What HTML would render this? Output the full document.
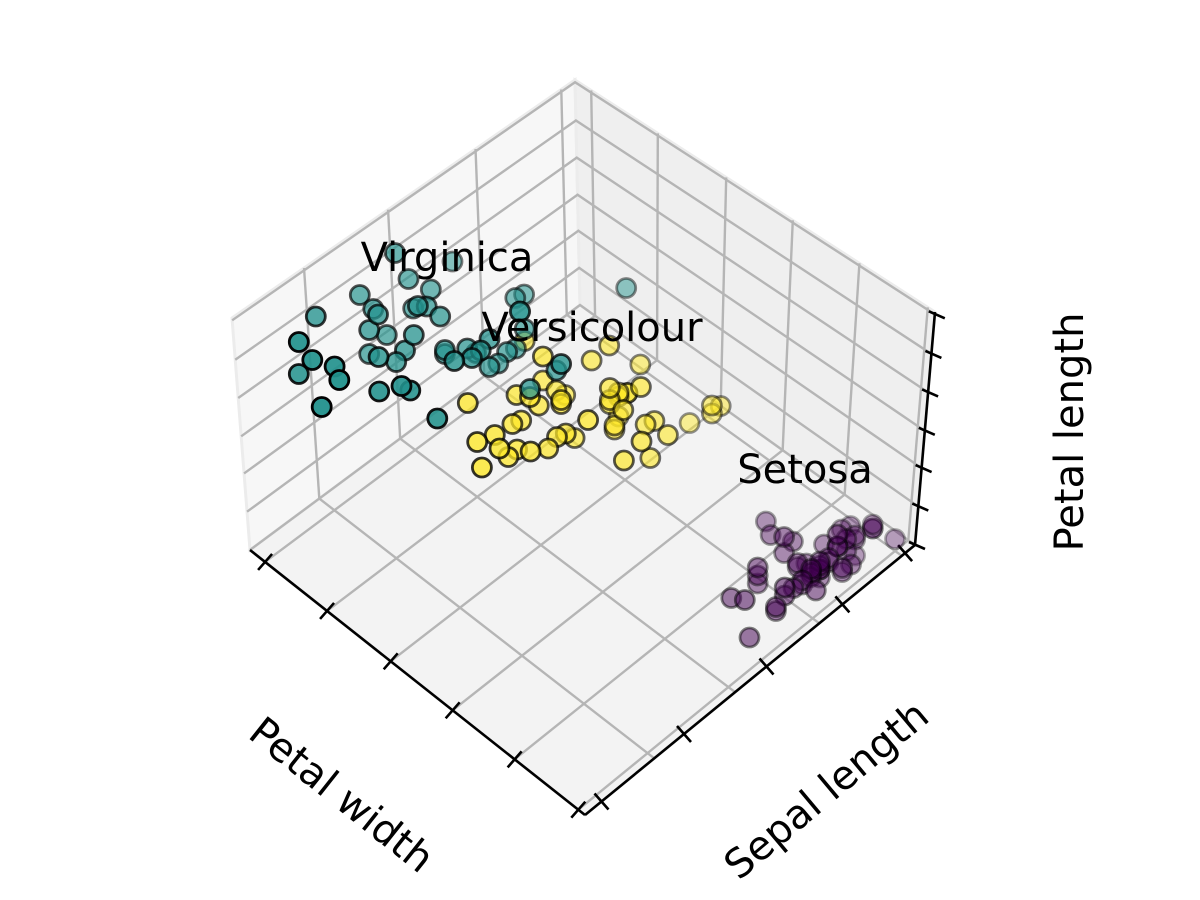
<!DOCTYPE html>
<html><head><meta charset="utf-8"><style>
body{margin:0;background:#fff}
svg{display:block;font-family:"DejaVu Sans","Liberation Sans",sans-serif}
</style></head><body>
<svg id="chart" width="1200" height="900" viewBox="0 0 1200 900">
<g id="panes"></g>
<g id="grid"></g>
<g id="axes"></g>
<g id="pts"></g>
<g id="labels">
<text x="447" y="271" font-size="40" text-anchor="middle">Virginica</text>
<text x="592" y="341" font-size="40" text-anchor="middle">Versicolour</text>
<text x="805" y="483" font-size="40" text-anchor="middle">Setosa</text>
<text transform="translate(340,797) rotate(38.5)" font-size="40" text-anchor="middle" dominant-baseline="middle">Petal width</text>
<text transform="translate(828,792) rotate(-40)" font-size="40" text-anchor="middle" dominant-baseline="middle">Sepal length</text>
<text transform="translate(1072,432) rotate(-90)" font-size="40" text-anchor="middle" dominant-baseline="middle">Petal length</text>
</g>
</svg>
<script>
// Iris data (sepal length, petal length, petal width) per species
const setosa = [[5.1,1.4,0.2],[4.9,1.4,0.2],[4.7,1.3,0.2],[4.6,1.5,0.2],[5.0,1.4,0.2],[5.4,1.7,0.4],[4.6,1.4,0.3],[5.0,1.5,0.2],[4.4,1.4,0.2],[4.9,1.5,0.1],[5.4,1.5,0.2],[4.8,1.6,0.2],[4.8,1.4,0.1],[4.3,1.1,0.1],[5.8,1.2,0.2],[5.7,1.5,0.4],[5.4,1.3,0.4],[5.1,1.4,0.3],[5.7,1.7,0.3],[5.1,1.5,0.3],[5.4,1.7,0.2],[5.1,1.5,0.4],[4.6,1.0,0.2],[5.1,1.7,0.5],[4.8,1.9,0.2],[5.0,1.6,0.2],[5.0,1.6,0.4],[5.2,1.5,0.2],[5.2,1.4,0.2],[4.7,1.6,0.2],[4.8,1.6,0.2],[5.4,1.5,0.4],[5.2,1.5,0.1],[5.5,1.4,0.2],[4.9,1.5,0.2],[5.0,1.2,0.2],[5.5,1.3,0.2],[4.9,1.4,0.1],[4.4,1.3,0.2],[5.1,1.5,0.2],[5.0,1.3,0.3],[4.5,1.3,0.3],[4.4,1.3,0.2],[5.0,1.6,0.6],[5.1,1.9,0.4],[4.8,1.4,0.3],[5.1,1.6,0.2],[4.6,1.4,0.2],[5.3,1.5,0.2],[5.0,1.4,0.2]];
const versicolour = [[7.0,4.7,1.4],[6.4,4.5,1.5],[6.9,4.9,1.5],[5.5,4.0,1.3],[6.5,4.6,1.5],[5.7,4.5,1.3],[6.3,4.7,1.6],[4.9,3.3,1.0],[6.6,4.6,1.3],[5.2,3.9,1.4],[5.0,3.5,1.0],[5.9,4.2,1.5],[6.0,4.0,1.0],[6.1,4.7,1.4],[5.6,3.6,1.3],[6.7,4.4,1.4],[5.6,4.5,1.5],[5.8,4.1,1.0],[6.2,4.5,1.5],[5.6,3.9,1.1],[5.9,4.8,1.8],[6.1,4.0,1.3],[6.3,4.9,1.5],[6.1,4.7,1.2],[6.4,4.3,1.3],[6.6,4.4,1.4],[6.8,4.8,1.4],[6.7,5.0,1.7],[6.0,4.5,1.5],[5.7,3.5,1.0],[5.5,3.8,1.1],[5.5,3.7,1.0],[5.8,3.9,1.2],[6.0,5.1,1.6],[5.4,4.5,1.5],[6.0,4.5,1.6],[6.7,4.7,1.5],[6.3,4.4,1.3],[5.6,4.1,1.3],[5.5,4.0,1.3],[5.5,4.4,1.2],[6.1,4.6,1.4],[5.8,4.0,1.2],[5.0,3.3,1.0],[5.6,4.2,1.3],[5.7,4.2,1.2],[5.7,4.2,1.3],[6.2,4.3,1.3],[5.1,3.0,1.1],[5.7,4.1,1.3]];
const virginica = [[6.3,6.0,2.5],[5.8,5.1,1.9],[7.1,5.9,2.1],[6.3,5.6,1.8],[6.5,5.8,2.2],[7.6,6.6,2.1],[4.9,4.5,1.7],[7.3,6.3,1.8],[6.7,5.8,1.8],[7.2,6.1,2.5],[6.5,5.1,2.0],[6.4,5.3,1.9],[6.8,5.5,2.1],[5.7,5.0,2.0],[5.8,5.1,2.4],[6.4,5.3,2.3],[6.5,5.5,1.8],[7.7,6.7,2.2],[7.7,6.9,2.3],[6.0,5.0,1.5],[6.9,5.7,2.3],[5.6,4.9,2.0],[7.7,6.7,2.0],[6.3,4.9,1.8],[6.7,5.7,2.1],[7.2,6.0,1.8],[6.2,4.8,1.8],[6.1,4.9,1.8],[6.4,5.6,2.1],[7.2,5.8,1.6],[7.4,6.1,1.9],[7.9,6.4,2.0],[6.4,5.6,2.2],[6.3,5.1,1.5],[6.1,5.6,1.4],[7.7,6.1,2.3],[6.3,5.6,2.4],[6.4,5.5,1.8],[6.0,4.8,1.8],[6.9,5.4,2.1],[6.7,5.6,2.4],[6.9,5.1,2.3],[5.8,5.1,1.9],[6.8,5.9,2.3],[6.7,5.7,2.5],[6.7,5.2,2.3],[6.3,5.0,1.9],[6.5,5.2,2.0],[6.2,5.4,2.3],[5.9,5.1,1.8]];
const speciesColors = ["#440154","#fde725","#21918c"];
const speciesNames = ["setosa","versicolour","virginica"];

const NS="http://www.w3.org/2000/svg";
function mk(tag,attrs,parent){const e=document.createElementNS(NS,tag);for(const k in attrs)e.setAttribute(k,attrs[k]);parent.appendChild(e);return e;}
// projection (pw, sl, pl) -> screen
const O=[895,543], UPW=[-135,-100], USL=[-88,75], UPL=[0,-40];
const PWMIN=0.1, SLMIN=4.3, PLMIN=1.0;
function proj(sl,pl,pw){const a=pw-PWMIN,b=sl-SLMIN,c=pl-PLMIN;
 return [O[0]+a*UPW[0]+b*USL[0]+c*UPL[0], O[1]+a*UPW[1]+b*USL[1]+c*UPL[1]];}
function depth(sl,pl,pw){return -(pw-PWMIN)*100+(sl-SLMIN)*75+(pl-PLMIN)*60;}

// box geometry
const L=[250,550],F=[585,815],R=[915,545],B=[580,305],T=[575,80],LT=[232,318],RT=[935,312];
const lerp=(p,q,t)=>[p[0]+(q[0]-p[0])*t,p[1]+(q[1]-p[1])*t];
const pts=a=>a.map(p=>p.join(",")).join(" ");
const panes=document.getElementById("panes");
let e;
e=mk("polygon",{points:pts([L,F,R,B]),fill:"#f3f3f3",stroke:"#ececec","stroke-width":3},panes);


e=mk("polygon",{points:pts([L,LT,T,B]),fill:"#f7f7f7",stroke:"#ececec","stroke-width":3},panes);


e=mk("polygon",{points:pts([B,T,RT,R]),fill:"#efefef",stroke:"#ececec","stroke-width":3},panes);



const grid=document.getElementById("grid");
const gs={stroke:"#b5b5b5","stroke-width":2.4,fill:"none"};
const tPW=[0.045,0.23,0.42,0.605,0.79,0.98];
const tSL=[0.04,0.29,0.545,0.79];
const uPL=[0,0.165,0.33,0.49,0.655,0.82,0.99];
function line(p,q,name,parent,style){const l=mk("line",Object.assign({x1:p[0],y1:p[1],x2:q[0],y2:q[1]},style),parent);
 
 return l;}
tPW.forEach(t=>{const a=lerp(L,F,t),b=lerp(B,R,t);line(a,b,"floor-grid-pw",grid,gs);
 const top=lerp(T,RT,t);line(b,top,"wall-grid-pw",grid,gs);});
tSL.forEach(s=>{const a=lerp(R,F,s),b=lerp(B,L,s);line(a,b,"floor-grid-sl",grid,gs);
 const top=lerp(T,LT,s);line(b,top,"wall-grid-sl",grid,gs);});
uPL.forEach(u=>{const a=lerp(L,LT,u),b=lerp(B,T,u),c=lerp(R,RT,u);
 const pl=mk("polyline",Object.assign({points:pts([a,b,c])},gs),grid);
 
 });

const axes=document.getElementById("axes");
const as={stroke:"#000","stroke-width":2.6};
line(L,F,"x-axis-line",axes,as);line(F,R,"y-axis-line",axes,as);line(R,RT,"z-axis-line",axes,as);
tPW.forEach(t=>{const p=lerp(L,F,t);line([p[0]-7,p[1]+8],[p[0]+7,p[1]-8],"x-tick",axes,as);});
[0.05,0.3,0.55,0.78,0.97].forEach(s=>{const p=lerp(F,R,s);line([p[0]-7,p[1]-8],[p[0]+7,p[1]+8],"y-tick",axes,as);});
uPL.forEach(u=>{const p=lerp(R,RT,u);line([p[0]-6,p[1]-3],[p[0]+10,p[1]+4],"z-tick",axes,as);});

// points
const all=[];
[setosa,versicolour,virginica].forEach((arr,k)=>arr.forEach(r=>all.push({r,k})));
const ds=all.map(o=>depth(o.r[0],o.r[1],o.r[2]));const dmin=Math.min(...ds),dmax=Math.max(...ds);
all.sort((a,b)=>depth(a.r[0],a.r[1],a.r[2])-depth(b.r[0],b.r[1],b.r[2]));
const pg=document.getElementById("pts");
all.forEach(o=>{const [x,y]=proj(o.r[0],o.r[1],o.r[2]);
 const a=0.3+0.7*(depth(o.r[0],o.r[1],o.r[2])-dmin)/(dmax-dmin);
 const c=mk("circle",{cx:x,cy:y,r:9.5,fill:speciesColors[o.k],"fill-opacity":a*0.85+0.1,stroke:"#000","stroke-opacity":a,"stroke-width":2.8},pg);
 
 });
</script>
</body></html>
